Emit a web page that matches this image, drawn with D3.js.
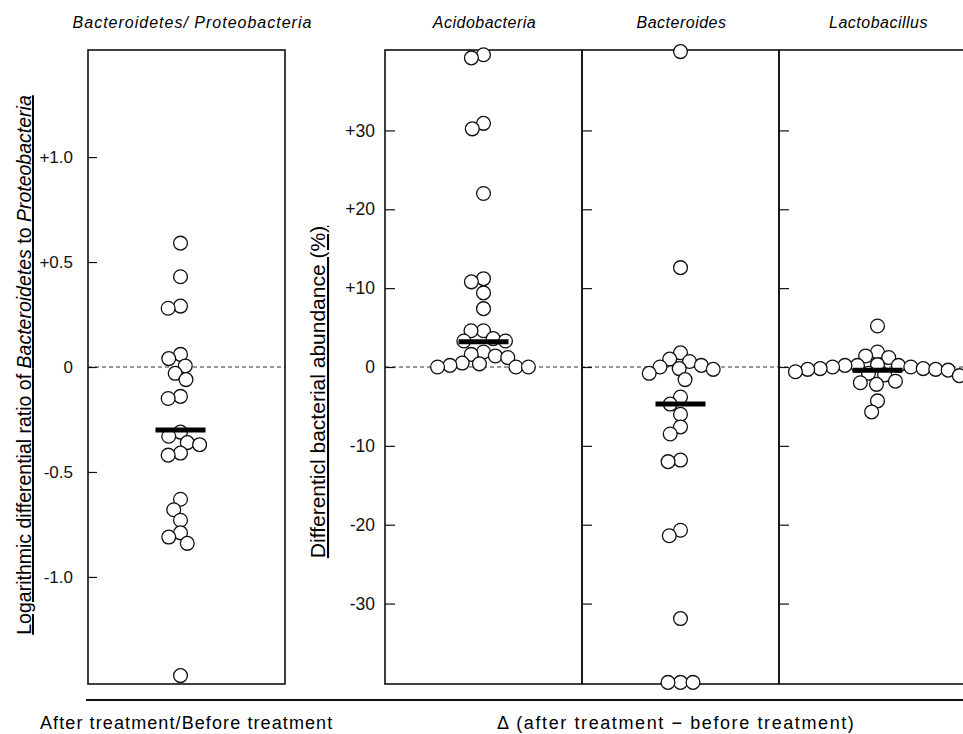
<!DOCTYPE html>
<html>
<head>
<meta charset="utf-8">
<script src="https://cdn.jsdelivr.net/npm/d3@7"></script>
<style>
  body { margin: 0; background: #fff; }
  svg { display: block; font-family: "Liberation Sans", Arial, sans-serif; }
</style>
</head>
<body>
<div id="chart"></div>
<script>
// values, one point per subject (n = 24)
var leftCategory = "Bacteroidetes/ Proteobacteria";
var leftValues = [0.59, 0.43, 0.29, 0.28, 0.06, 0.04, 0.005, -0.03, -0.06, -0.14, -0.15, -0.31,
    -0.33, -0.36, -0.37, -0.41, -0.42, -0.63, -0.68, -0.73, -0.79, -0.81, -0.84, -1.47];
var leftMedian = -0.30;
var leftTicks = [-1.0, -0.5, 0, 0.5, 1.0];

var rightCategories = ["Acidobacteria", "Bacteroides", "Lactobacillus"];
var acidoValues = [39.6, 39.2, 30.9, 30.2, 22.0, 11.2, 10.8, 9.4, 7.4, 4.6, 4.6, 3.6,
    3.3, 3.3, 1.9, 1.6, 1.4, 1.2, 0.5, 0.4, 0.2, 0.0, 0.0, 0.0];
var bacteroidesValues = [40.0, 12.6, 1.8, 1.0, 0.7, 0.2, 0.0, -0.2, -0.3, -0.8, -1.6, -3.8,
    -4.7, -6.0, -7.6, -8.5, -11.8, -12.0, -20.7, -21.4, -31.9, -40.0, -40.0, -40.0];
var lactoValues = [5.2, 1.9, 1.4, 1.2, 0.3, 0.2, 0.2, 0.2, 0.0, 0.0, -0.2, -0.2,
    -0.3, -0.3, -0.4, -0.6, -0.8, -1.0, -1.1, -1.8, -2.0, -2.2, -4.3, -5.7];
var rightMedians = [3.2, -4.7, -0.4];
var rightTicks = [-30, -20, -10, 0, 10, 20, 30];

var width = 963;
var height = 734;
var radius = 6.9;

var svg = d3.select("#chart").append("svg")
    .attr("width", width)
    .attr("height", height);

var yLeft = d3.scaleLinear().domain([-1.51, 1.51]).range([684, 50]);
var yRight = d3.scaleLinear().domain([-40.2, 40.2]).range([684, 50]);

var xLeft = d3.scaleBand().domain([leftCategory]).range([88, 285]);
var xRight = d3.scaleBand().domain(rightCategories).range([385, 976]);

//greedy beeswarm: each point goes to the free spot closest to the column centre
function swarm(values, y, cx, dist) {
    var placed = [];
    values.forEach(function(v) {
        var p = { v: v, y: y(v) };
        var candidates = [0];
        placed.forEach(function(q) {
            var dy = p.y - q.y;
            if (Math.abs(dy) < dist) {
                var dx = Math.sqrt(dist * dist - dy * dy);
                candidates.push(q.dx - dx, q.dx + dx);
            }
        });
        candidates.sort(function(a, b) { return Math.abs(a) - Math.abs(b); });
        for (var i = 0; i < candidates.length; i++) {
            var c = candidates[i];
            var ok = placed.every(function(q) {
                var ddx = c - q.dx, ddy = p.y - q.y;
                return ddx * ddx + ddy * ddy >= dist * dist - 0.01;
            });
            if (ok) { p.dx = c; break; }
        }
        placed.push(p);
    });
    placed.forEach(function(p) { p.x = cx + p.dx; });
    return placed;
}

function drawPoints(g, pts) {
    g.selectAll("circle.pt")
        .data(pts)
        .enter().append("circle")
        .attr("class", "pt")
        .attr("cx", function(d) { return d.x; })
        .attr("cy", function(d) { return d.y; })
        .attr("r", radius)
        .attr("fill", "white")
        .attr("stroke", "#111")
        .attr("stroke-width", 1.3);
}

function styleAxis(g, size) {
    g.select(".domain").remove();
    g.selectAll(".tick line").attr("stroke", "#111").attr("stroke-width", 1.2);
    g.selectAll(".tick text")
        .attr("fill", "#111")
        .style("font-family", "'Liberation Sans', Arial, sans-serif")
        .style("font-size", size + "px");
}

// ---------- left panel (log ratio) ----------
var left = svg.append("g");

left.append("line")
    .attr("x1", xLeft.range()[0]).attr("x2", xLeft.range()[1])
    .attr("y1", yLeft(0)).attr("y2", yLeft(0))
    .attr("stroke", "#333").attr("stroke-width", 1)
    .attr("stroke-dasharray", "4,3");

left.append("rect")
    .attr("x", xLeft(leftCategory)).attr("y", yLeft.range()[1])
    .attr("width", xLeft.bandwidth())
    .attr("height", yLeft.range()[0] - yLeft.range()[1])
    .attr("fill", "none").attr("stroke", "#111").attr("stroke-width", 1.6);

left.append("g")
    .attr("transform", "translate(" + xLeft.range()[0] + ",0)")
    .call(d3.axisLeft(yLeft).tickValues(leftTicks).tickSizeInner(-9).tickSizeOuter(0).tickPadding(15)
        .tickFormat(function(d) {
            if (d > 0) return "+" + d.toFixed(1);
            if (d < 0) return d.toFixed(1);
            return "0";
        }))
    .call(styleAxis, 17);

var leftCx = xLeft(leftCategory) + xLeft.bandwidth() / 2 - 6;
drawPoints(left, swarm(leftValues, yLeft, leftCx, 12.5));

left.append("line")
    .attr("x1", leftCx - 25).attr("x2", leftCx + 25)
    .attr("y1", yLeft(leftMedian)).attr("y2", yLeft(leftMedian))
    .attr("stroke", "#000").attr("stroke-width", 5);

left.append("text")
    .attr("x", xLeft(leftCategory) + xLeft.bandwidth() / 2 + 6)
    .attr("y", 28)
    .attr("text-anchor", "middle")
    .style("font-style", "italic")
    .style("font-size", "16px")
    .style("letter-spacing", "1px")
    .text(leftCategory);

// rotated y label with italic taxa names, underlined
var leftLabel = svg.append("text")
    .attr("transform", "translate(31,365) rotate(-90)")
    .attr("text-anchor", "middle")
    .style("font-size", "19.5px")
    .style("text-decoration", "underline");
leftLabel.append("tspan").text("Logarithmic differential ratio of ");
leftLabel.append("tspan").style("font-style", "italic").text("Bacteroidetes");
leftLabel.append("tspan").text(" to ");
leftLabel.append("tspan").style("font-style", "italic").text("Proteobacteria");

// ---------- right panels (differential abundance) ----------
var right = svg.append("g");

right.append("line")
    .attr("x1", xRight.range()[0]).attr("x2", xRight.range()[1])
    .attr("y1", yRight(0)).attr("y2", yRight(0))
    .attr("stroke", "#333").attr("stroke-width", 1)
    .attr("stroke-dasharray", "4,3");

var rightSeries = [acidoValues, bacteroidesValues, lactoValues];

rightCategories.forEach(function(cat, i) {
    var x0 = xRight(cat);
    var cx = x0 + xRight.bandwidth() / 2;
    var panel = right.append("g");

    panel.append("rect")
        .attr("x", x0).attr("y", yRight.range()[1])
        .attr("width", xRight.bandwidth())
        .attr("height", yRight.range()[0] - yRight.range()[1])
        .attr("fill", "none").attr("stroke", "#111").attr("stroke-width", 1.6);

    panel.append("g")
        .attr("transform", "translate(" + x0 + ",0)")
        .call(d3.axisLeft(yRight).tickValues(rightTicks).tickSizeInner(-10).tickSizeOuter(0).tickPadding(10)
            .tickFormat(function(d) {
                if (i > 0) return "";
                return d > 0 ? "+" + d : String(d);
            }))
        .call(styleAxis, 17.5);

    drawPoints(panel, swarm(rightSeries[i], yRight, cx, 12.5));

    panel.append("line")
        .attr("x1", cx - 25).attr("x2", cx + 25)
        .attr("y1", yRight(rightMedians[i])).attr("y2", yRight(rightMedians[i]))
        .attr("stroke", "#000").attr("stroke-width", 5);

    panel.append("text")
        .attr("x", cx + 1)
        .attr("y", 28)
        .attr("text-anchor", "middle")
        .style("font-style", "italic")
        .style("font-size", "16px")
        .style("letter-spacing", "0.5px")
        .text(cat);
});

svg.append("text")
    .attr("transform", "translate(325,392) rotate(-90)")
    .attr("text-anchor", "middle")
    .style("font-size", "21px")
    .style("text-decoration", "underline")
    .text("Differenticl bacterial abundance (%)");

// ---------- baseline and bottom captions ----------
svg.append("line")
    .attr("x1", 86).attr("x2", width)
    .attr("y1", 700).attr("y2", 700)
    .attr("stroke", "#111").attr("stroke-width", 2);

svg.append("text")
    .attr("x", 40).attr("y", 729)
    .style("font-size", "18px")
    .style("letter-spacing", "1.1px")
    .text("After treatment/Before treatment");

svg.append("text")
    .attr("x", 497).attr("y", 729)
    .style("font-size", "18px")
    .style("letter-spacing", "1.6px")
    .text("\u0394 (after treatment  \u2212 before treatment)");
</script>
</body>
</html>
